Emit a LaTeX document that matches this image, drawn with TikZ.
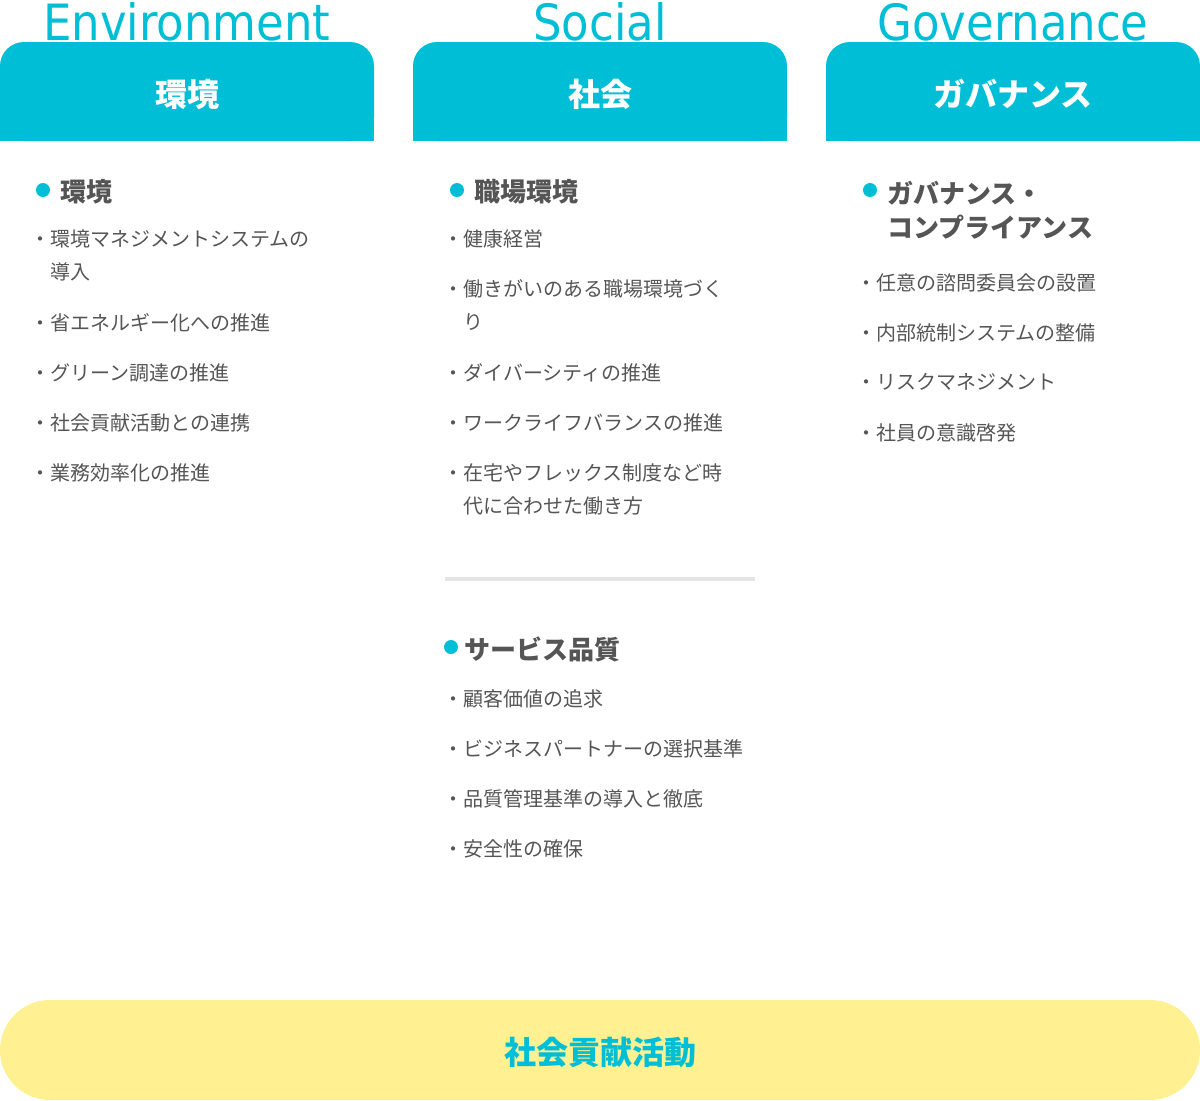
\documentclass[tikz,border=0pt]{standalone}
\usepackage{fontspec}
\newfontfamily\jpfont{Noto Sans CJK JP}
\newfontfamily\enfont{DejaVu Sans Condensed}
\definecolor{esgteal}{RGB}{0,190,214}
\definecolor{esgyellow}{RGB}{255,240,145}
\definecolor{esgtext}{RGB}{85,85,85}
\definecolor{esgline}{RGB}{228,228,228}
\tikzset{
  entitle/.style={text=esgteal,font=\enfont\fontsize{25}{25}\selectfont,inner sep=0pt},
  headbox/.style={fill=esgteal,rounded corners=12pt},
  headlabel/.style={text=white,font=\jpfont\bfseries\fontsize{16}{16}\selectfont},
  topic/.style={anchor=west,text=esgtext,font=\jpfont\bfseries\fontsize{13}{17}\selectfont,align=left,inner sep=0pt},
  item/.style={anchor=north west,text=esgtext,font=\jpfont\fontsize{10}{16.5}\selectfont,align=left,inner sep=0pt},
  bullet/.style={fill=esgteal,circle,inner sep=0pt,minimum size=7pt}
}
\begin{document}
\begin{tikzpicture}[x=0.5pt,y=-0.5pt]
  \useasboundingbox (0,0) rectangle (1200,1100);
  % column headers
  \foreach \xa/\nm/\en/\jp in {0/env/Environment/環境,413/soc/Social/社会,826/gov/Governance/ガバナンス}{
    \fill[headbox] (\xa,141) -- (\xa,42) -- (\xa+374,42) -- (\xa+374,141) -- cycle;
    \fill[esgteal] (\xa,100) rectangle (\xa+374,141);
    \node[headlabel] (\nm head) at (\xa+187,94) {\jp};
    \node[entitle] (\nm title) at (\xa+187,22) {\en};
  }
  % environment
  \node[bullet] (envdot) at (43,190) {};
  \node[topic] (envtopic) at (60,192) {環境};
  \node[item] (env1) at (30,229) {・環境マネジメントシステムの\\\hspace{1em}導入};
  \node[item] (env2) at (30,313) {・省エネルギー化への推進};
  \node[item] (env3) at (30,363) {・グリーン調達の推進};
  \node[item] (env4) at (30,413) {・社会貢献活動との連携};
  \node[item] (env5) at (30,463) {・業務効率化の推進};
  % social
  \node[bullet] (socdot) at (457,190) {};
  \node[topic] (soctopic) at (474,192) {職場環境};
  \node[item] (soc1) at (443,229) {・健康経営};
  \node[item] (soc2) at (443,279) {・働きがいのある職場環境づく\\\hspace{1em}り};
  \node[item] (soc3) at (443,363) {・ダイバーシティの推進};
  \node[item] (soc4) at (443,413) {・ワークライフバランスの推進};
  \node[item] (soc5) at (443,463) {・在宅やフレックス制度など時\\\hspace{1em}代に合わせた働き方};
  \coordinate (sepl) at (445,579);
  \coordinate (sepr) at (755,579);
  \draw[esgline,line width=2pt] (sepl) -- (sepr);
  \node[bullet] (qualdot) at (451,647) {};
  \node[topic] (qualtopic) at (464,649) {サービス品質};
  \node[item] (qual1) at (443,689) {・顧客価値の追求};
  \node[item] (qual2) at (443,739) {・ビジネスパートナーの選択基準};
  \node[item] (qual3) at (443,789) {・品質管理基準の導入と徹底};
  \node[item] (qual4) at (443,839) {・安全性の確保};
  % governance
  \node[bullet] (govdot) at (870,190) {};
  \node[topic] (govtopic) at (887,210) {ガバナンス・\\コンプライアンス};
  \node[item] (gov1) at (856,273) {・任意の諮問委員会の設置};
  \node[item] (gov2) at (856,323) {・内部統制システムの整備};
  \node[item] (gov3) at (856,373) {・リスクマネジメント};
  \node[item] (gov4) at (856,423) {・社員の意識啓発};
  % base
  \fill[esgyellow,rounded corners=25pt] (0,1000) rectangle (1200,1100);
  \node[text=esgteal,font=\jpfont\bfseries\fontsize{16}{16}\selectfont] (base) at (600,1052) {社会貢献活動};
\end{tikzpicture}
\end{document}
